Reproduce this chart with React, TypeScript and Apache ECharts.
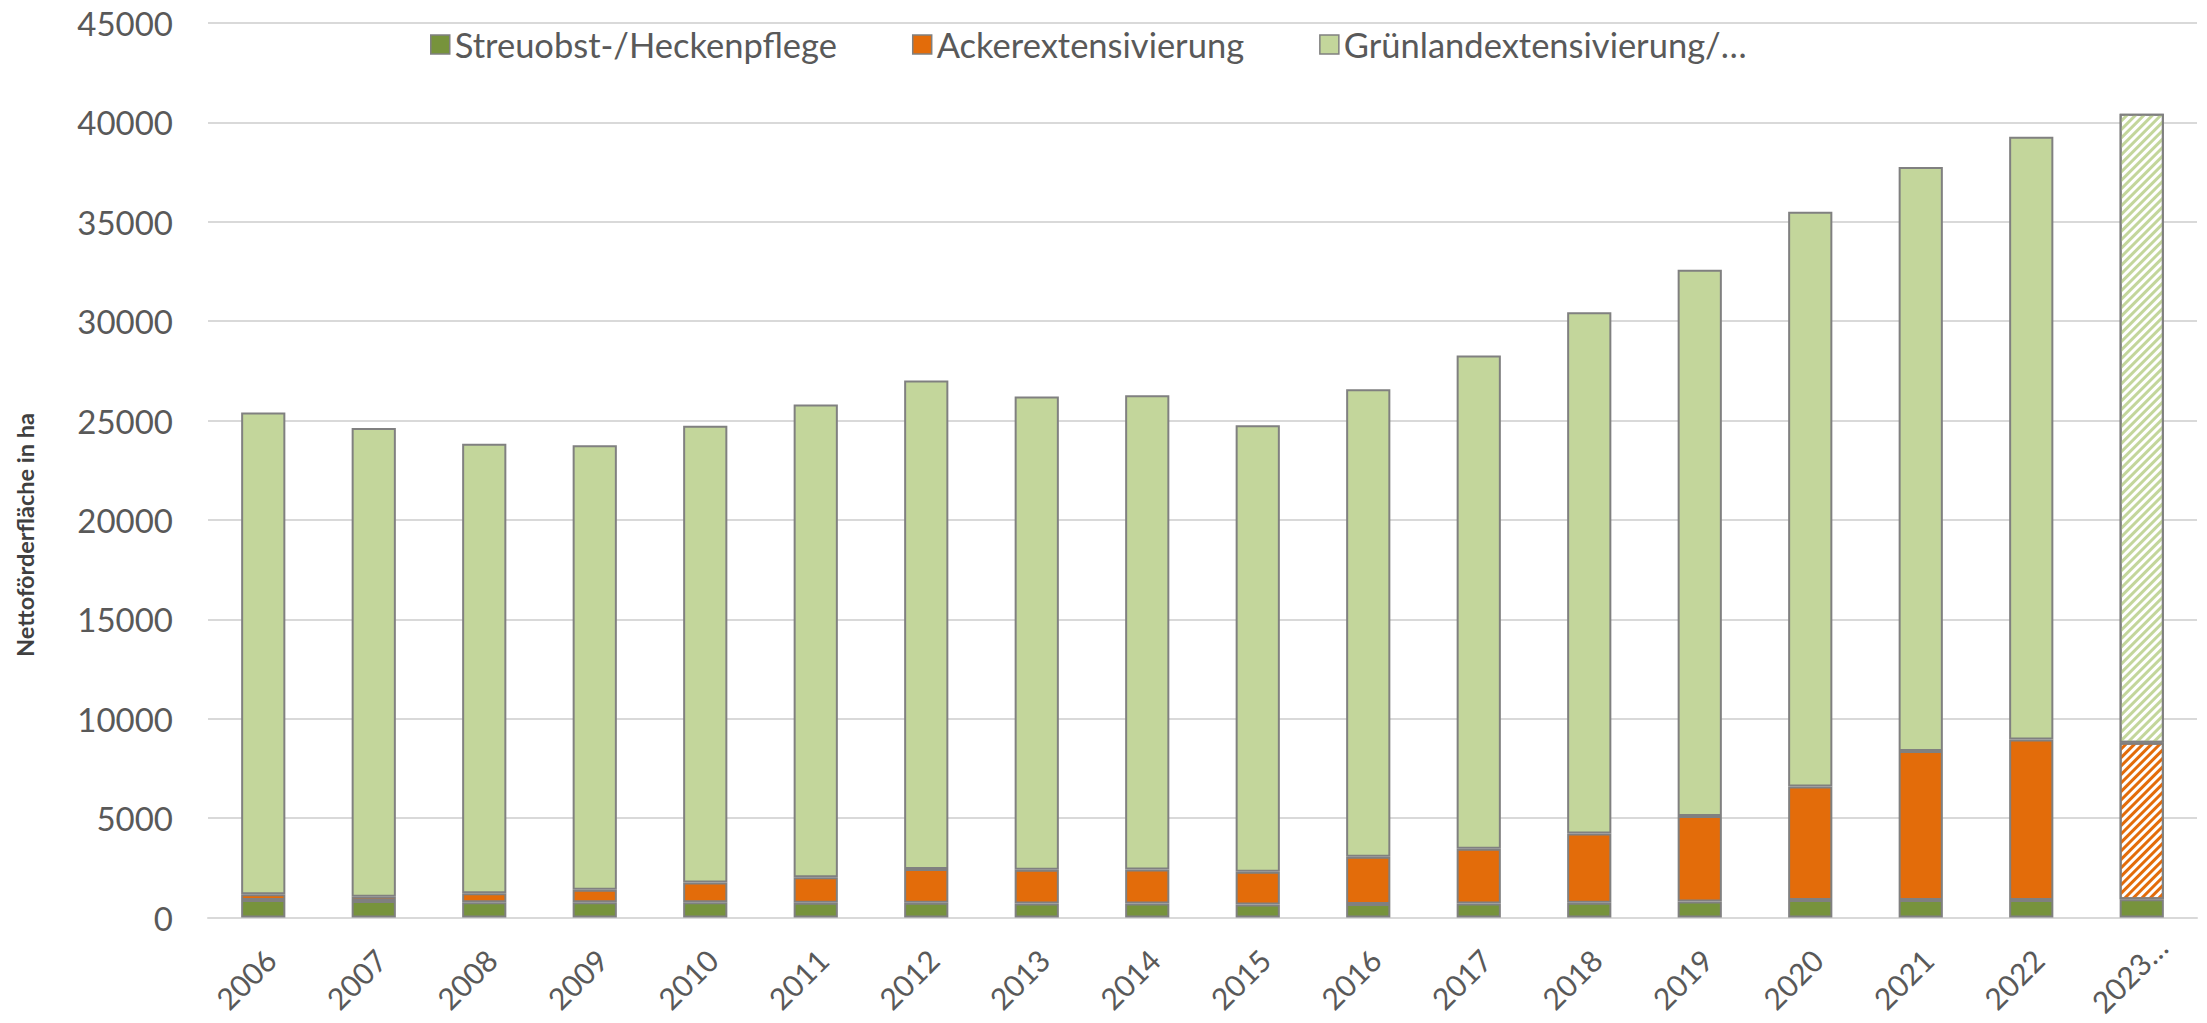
import React, { useEffect, useRef } from "react";
import * as echarts from "echarts";

const categories = [
  "2006", "2007", "2008", "2009", "2010", "2011", "2012", "2013", "2014",
  "2015", "2016", "2017", "2018", "2019", "2020", "2021", "2022", "2023…",
];

const seriesNames = ["Streuobst-/Heckenpflege", "Ackerextensivierung", "Grünlandextensivierung/…"];

const streuobst = [880, 830, 765, 765, 765, 745, 745, 700, 700, 660, 680, 710, 745, 800, 880, 880, 880, 915];
const acker = [290, 220, 455, 625, 1000, 1285, 1695, 1700, 1710, 1640, 2370, 2750, 3475, 4300, 5710, 7490, 8080, 7880];
const gruenland = [24234, 23580, 22618, 22364, 22968, 23778, 24580, 23804, 23861, 22466, 23522, 24818, 26232, 27490, 28909, 29386, 30315, 31639];

const yTicks = { min: 0, max: 45000, interval: 5000 };
const yAxisTitle = "Nettoförderfläche in ha";

const colors = ["#77933c", "#e36c0a", "#c3d69b"];
const FONT = "Lato";
const TEXT = "#595959";
const BORDER = "#808080";

function hatched(values: number[], color: string, lastHatched: boolean) {
  return values.map((v, i) => {
    if (lastHatched && i === values.length - 1) {
      return {
        value: v,
        itemStyle: {
          color: "#ffffff",
          decal: {
            symbol: "rect",
            symbolSize: 1,
            color: color,
            dashArrayX: [1, 0],
            dashArrayY: [2.5, 2.5],
            rotation: -Math.PI / 4,
          },
        },
      };
    }
    return v;
  });
}

export default function App() {
  const ref = useRef<HTMLDivElement>(null);
  useEffect(() => {
    if (!ref.current) return;
    const chart = echarts.init(ref.current, undefined, { renderer: "svg" });
    const dataSets = [
      hatched(streuobst, colors[0], false),
      hatched(acker, colors[1], true),
      hatched(gruenland, colors[2], true),
    ];
    const xData = categories.map((c, i) =>
      i === categories.length - 1
        ? { value: c, textStyle: { padding: [0, -28, 0, 0] } }
        : c
    );
    chart.setOption({
      animation: false,
      backgroundColor: "#ffffff",
      textStyle: { fontFamily: FONT },
      legend: {
        left: 430,
        top: 27,
        padding: 0,
        itemWidth: 19,
        itemHeight: 19,
        itemGap: 75,
        icon: "rect",
        itemStyle: { borderColor: BORDER, borderWidth: 1.5 },
        textStyle: { fontSize: 34.5, color: TEXT, fontFamily: FONT },
        data: seriesNames,
      },
      grid: {
        left: 208,
        right: 10,
        top: 23,
        bottom: 105.5,
        containLabel: false,
        outerBoundsMode: "none",
      },
      xAxis: {
        type: "category",
        data: xData,
        axisTick: { show: false },
        axisLine: { lineStyle: { color: "#d9d9d9", width: 2 } },
        axisLabel: {
          rotate: 45,
          fontSize: 30,
          color: TEXT,
          fontFamily: FONT,
          margin: 44,
          padding: [0, -10, 0, 0],
          verticalAlign: "middle",
          interval: 0,
        },
      },
      yAxis: {
        type: "value",
        min: yTicks.min,
        max: yTicks.max,
        interval: yTicks.interval,
        axisLine: { show: false },
        axisTick: { show: false },
        splitLine: { lineStyle: { color: "#d9d9d9", width: 2 } },
        axisLabel: {
          fontSize: 33,
          color: TEXT,
          fontFamily: FONT,
          margin: 35,
          formatter: (v: number) => String(v),
        },
      },
      graphic: [
        {
          type: "text",
          x: 25,
          y: 535,
          rotation: Math.PI / 2,
          style: {
            text: yAxisTitle,
            font: `bold 23.5px ${FONT}`,
            fill: "#404040",
            align: "center",
            verticalAlign: "middle",
          },
        },
      ],
      series: seriesNames.map((name, i) => ({
        name,
        type: "bar",
        stack: "total",
        barWidth: "40%",
        data: dataSets[i],
        itemStyle: { color: colors[i], borderColor: BORDER, borderWidth: 2 },
        emphasis: { disabled: true },
      })),
    });
    return () => chart.dispose();
  }, []);
  return (
    <div
      ref={ref}
      style={{ position: "absolute", left: 0, top: 0, width: 2207, height: 1023 }}
    />
  );
}
